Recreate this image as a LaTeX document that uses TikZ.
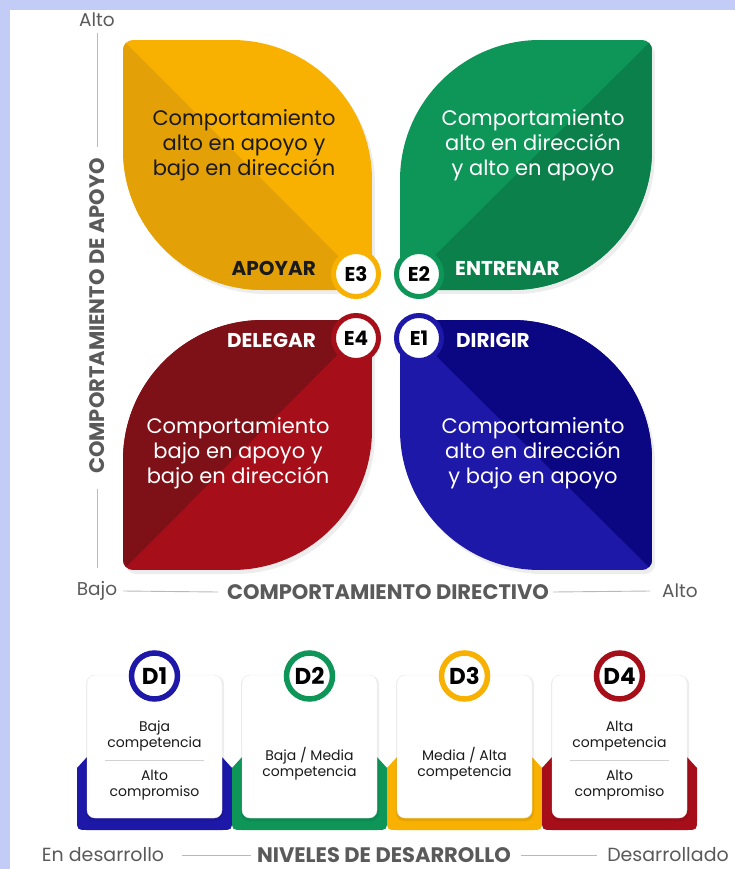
\documentclass[tikz,border=0pt]{standalone}
\usepackage{fontspec}
\setmainfont{Poppins}
\definecolor{lav}{HTML}{C2CCF6}
\definecolor{ylight}{HTML}{F8B100}
\definecolor{ydark}{HTML}{E3A007}
\definecolor{glight}{HTML}{0E9558}
\definecolor{gdark}{HTML}{0B804B}
\definecolor{rlight}{HTML}{A60F19}
\definecolor{rdark}{HTML}{7D1117}
\definecolor{blight}{HTML}{1E18A8}
\definecolor{bdark}{HTML}{0B0682}
\definecolor{axgray}{HTML}{5A5A5A}
\definecolor{txtdark}{HTML}{1A1A1A}
\newcommand\leafpath[8]{%
 ({#1+#5},#2) -- ({#3-#6},#2) .. controls ({#3-0.448*#6},#2) and (#3,{#2+0.448*#6}) .. (#3,{#2+#6})
 -- (#3,{#4-#7}) .. controls (#3,{#4-0.448*#7}) and ({#3-0.448*#7},#4) .. ({#3-#7},#4)
 -- ({#1+#8},#4) .. controls ({#1+0.448*#8},#4) and (#1,{#4-0.448*#8}) .. (#1,{#4-#8})
 -- (#1,{#2+#5}) .. controls (#1,{#2+0.448*#5}) and ({#1+0.448*#5},#2) .. ({#1+#5},#2) -- cycle}
\newcommand\cardbase[2]{%
 \fill[#2] (#1,768) -- ({#1+10},757) -- ({#1+145},757) -- ({#1+155},768) -- ({#1+155},819)
  .. controls ({#1+155},830) .. ({#1+144},830) -- ({#1+11},830) .. controls (#1,830) .. (#1,819) -- cycle;}
\tikzset{
 ering/.style={circle, draw=#1, line width=5pt, fill=white, minimum size=45pt, inner sep=0pt,
   text=black, font=\bfseries\fontsize{20}{20}\selectfont},
 dring/.style={circle, draw=#1, line width=5.5pt, fill=white, minimum size=46pt, inner sep=0pt,
   text=black, font=\bfseries\fontsize{23}{23}\selectfont},
 body/.style={align=center, font=\fontsize{21}{25}\selectfont, inner sep=0pt},
 lab/.style={font=\bfseries\fontsize{20}{20}\selectfont, inner sep=0pt},
 axbold/.style={font=\bfseries\fontsize{21}{21}\selectfont, text=axgray, inner sep=0pt},
 axreg/.style={font=\fontsize{18.5}{18.5}\selectfont, text=axgray, inner sep=0pt},
 axline/.style={draw=gray!55, line width=0.9pt},
 card/.style={fill=white, draw=gray!18, rounded corners=8pt, minimum width=135pt, minimum height=143pt, inner sep=0pt},
 cardtxt/.style={align=center, font=\fontsize{14}{16.5}\selectfont, text=txtdark, inner sep=0pt},
 sep/.style={draw=gray!35, line width=0.8pt},
 shade/.style={fill=black, opacity=0.07}
}
\begin{document}
\begin{tikzpicture}[x=1pt,y=-1pt]
\useasboundingbox (0,0) rectangle (735,869);
\fill[lav] (0,0) rectangle (735,869);
\fill[white] (10,10) rectangle (735,869);

% shadows of leaves
\fill[shade,shift={(3,4)}] \leafpath{123}{40}{372}{290}{10}{140}{10}{140};
\fill[shade,shift={(3,4)}] \leafpath{400}{40}{652}{290}{140}{10}{140}{10};
\fill[shade,shift={(3,4)}] \leafpath{123}{320}{372}{570}{140}{10}{140}{10};
\fill[shade,shift={(3,4)}] \leafpath{400}{320}{652}{570}{10}{140}{10}{140};

% yellow leaf
\begin{scope}
\clip \leafpath{123}{40}{372}{290}{10}{140}{10}{140};
\fill[ylight] (123,40) rectangle (372,290);
\fill[ydark] (123,40) -- (372,290) -- (123,290) -- cycle;
\end{scope}
% green leaf
\begin{scope}
\clip \leafpath{400}{40}{652}{290}{140}{10}{140}{10};
\fill[glight] (400,40) rectangle (652,290);
\fill[gdark] (652,40) -- (652,290) -- (400,290) -- cycle;
\end{scope}
% red leaf
\begin{scope}
\clip \leafpath{123}{320}{372}{570}{140}{10}{140}{10};
\fill[rlight] (123,320) rectangle (372,570);
\fill[rdark] (123,320) -- (372,320) -- (123,570) -- cycle;
\end{scope}
% blue leaf
\begin{scope}
\clip \leafpath{400}{320}{652}{570}{10}{140}{10}{140};
\fill[blight] (400,320) rectangle (652,570);
\fill[bdark] (400,320) -- (652,320) -- (652,570) -- cycle;
\end{scope}

% leaf texts
\node[body, text=txtdark] (ty) at (244,145) {Comportamiento\\alto en apoyo y\\bajo en dirección};
\node[body, text=white] (tg) at (533,145) {Comportamiento\\alto en dirección\\y alto en apoyo};
\node[body, text=white] (tr) at (238,453) {Comportamiento\\bajo en apoyo y\\bajo en dirección};
\node[body, text=white] (tb) at (533,453) {Comportamiento\\alto en dirección\\y bajo en apoyo};

% style labels
\node[lab, text=txtdark, anchor=east] (apoyar) at (316,268) {APOYAR};
\node[lab, text=white, anchor=west] (entrenar) at (455,268) {ENTRENAR};
\node[lab, text=white, anchor=east] (delegar) at (316,340) {DELEGAR};
\node[lab, text=white, anchor=west] (dirigir) at (456,340) {DIRIGIR};

% E circles
\node[ering=ylight] (e3) at (356,274) {E3};
\node[ering=glight] (e2) at (419,274) {E2};
\node[ering=rlight] (e4) at (356,338) {E4};
\node[ering=blight] (e1) at (419,338) {E1};

% vertical axis
\node[axreg] (altoV) at (97,20) {Alto};
\node[axbold, rotate=90] (vlab) at (97,316) {COMPORTAMIENTO DE APOYO};
\coordinate (va1) at (97,33);
\coordinate (va2) at (97,147);
\coordinate (va3) at (97,489);
\coordinate (va4) at (97,568);
\draw[axline] (va1) -- (va2);
\draw[axline] (va3) -- (va4);

% horizontal axis
\node[axreg] (bajoH) at (97,591) {Bajo};
\node[axbold] (hlab) at (388,592) {COMPORTAMIENTO DIRECTIVO};
\node[axreg] (altoH) at (680,591) {Alto};
\draw[axline] ([xshift=6pt]bajoH.east) -- ([xshift=-9pt]hlab.west);
\draw[axline] ([xshift=4pt]hlab.east) -- ([xshift=-12pt]altoH.west);

% development cards
\cardbase{77}{blight}
\cardbase{232}{glight}
\cardbase{387}{ylight}
\cardbase{542}{rlight}
\fill[shade,rounded corners=8pt] (86,676) rectangle (224,821);
\fill[shade,rounded corners=8pt] (241,676) rectangle (379,821);
\fill[shade,rounded corners=8pt] (396,676) rectangle (534,821);
\fill[shade,rounded corners=8pt] (551,676) rectangle (689,821);
\node[card] (c1) at (154.5,746.5) {};
\node[card] (c2) at (309.5,746.5) {};
\node[card] (c3) at (464.5,746.5) {};
\node[card] (c4) at (619.5,746.5) {};
\node[dring=blight] (d1) at (154.5,676) {D1};
\node[dring=glight] (d2) at (309.5,676) {D2};
\node[dring=ylight] (d3) at (464.5,676) {D3};
\node[dring=rlight] (d4) at (619.5,676) {D4};

\node[cardtxt] (k1a) at (154.5,736) {Baja\\competencia};
\coordinate (s1a) at (105,760); \coordinate (s1b) at (204,760);
\draw[sep] (s1a) -- (s1b);
\node[cardtxt] (k1b) at (154.5,785) {Alto\\compromiso};
\node[cardtxt] (k2) at (309.5,763.5) {Baja / Media\\competencia};
\node[cardtxt] (k3) at (464.5,763.5) {Media / Alta\\competencia};
\node[cardtxt] (k4a) at (619.5,736) {Alta\\competencia};
\coordinate (s4a) at (570,760); \coordinate (s4b) at (669,760);
\draw[sep] (s4a) -- (s4b);
\node[cardtxt] (k4b) at (619.5,785) {Alto\\compromiso};

% bottom axis
\node[axreg, font=\fontsize{19}{19}\selectfont] (endes) at (103,855) {En desarrollo};
\node[axbold] (nivlab) at (384,855) {NIVELES DE DESARROLLO};
\node[axreg, font=\fontsize{19}{19}\selectfont] (desar) at (668,855) {Desarrollado};
\draw[axline] ([xshift=18pt]endes.east) -- ([xshift=-6pt]nivlab.west);
\draw[axline] ([xshift=10pt]nivlab.east) -- ([xshift=-10pt]desar.west);
\end{tikzpicture}
\end{document}
